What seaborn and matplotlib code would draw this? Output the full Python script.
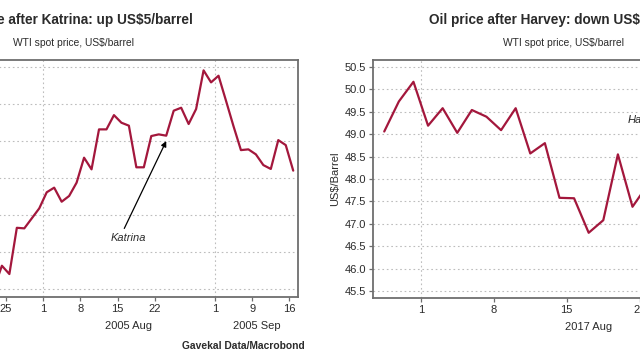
import numpy as np
import pandas as pd
import matplotlib
matplotlib.use("Agg")
import matplotlib.pyplot as plt
import matplotlib.transforms as mtransforms
import seaborn as sns

LINE_COLOR = "#a3173c"
SPINE_COLOR = "#6e6e6e"
GRID_COLOR = "#bdbdbd"
TEXT_COLOR = "#2b2b2b"

# ── Katrina panel (2005, trading days) ──
kat_start, kat_end = "2005-07-21", "2005-09-16"
kat_holidays = ["2005-09-05"]
kat_values = [58.10, 59.26, 58.81, 61.31, 61.28, 61.82, 62.36,
              63.23, 63.48, 62.72, 63.03, 63.75,
              65.10, 64.47, 66.63, 66.63, 67.40,
              66.99, 66.83, 64.58, 64.58, 66.27,
              66.36, 66.29, 67.64, 67.80, 66.92,
              67.73, 69.82, 69.17, 69.53, 68.18,
              66.81, 65.51, 65.55, 65.28,
              64.70, 64.49, 66.05, 65.78, 64.40]
kat_tick_dates = ["2005-07-25", "2005-08-01", "2005-08-08", "2005-08-15",
                  "2005-08-22", "2005-09-01", "2005-09-09", "2005-09-16"]
kat_tick_labels = ["25", "1", "8", "15", "22", "1", "9", "16"]
kat_months = ["2005-07-01", "2005-08-01", "2005-09-01", "2005-10-01"]
kat_month_labels = ["2005 Jul", "2005 Aug", "2005 Sep"]
kat_yticks = [58, 60, 62, 64, 66, 68, 70]

# ── Harvey panel (2017, trading days) ──
har_start, har_end = "2017-07-27", "2017-08-22"
har_holidays = []
har_values = [49.06, 49.73, 50.17,
              49.19, 49.58, 49.03, 49.54,
              49.39, 49.09, 49.58, 48.57, 48.80,
              47.58, 47.57, 46.80, 47.08, 48.55,
              47.38, 47.85]
har_tick_dates = ["2017-08-01", "2017-08-08", "2017-08-15", "2017-08-22",
                  "2017-08-29"]
har_tick_labels = ["1", "8", "15", "22", "29"]
har_months = ["2017-07-01", "2017-08-01", "2017-09-01", "2017-10-01"]
har_month_labels = ["2017 Jul", "2017 Aug", "2017 Sep"]
har_yticks = [45.5, 46.0, 46.5, 47.0, 47.5, 48.0, 48.5, 49.0, 49.5, 50.0, 50.5]

sns.set_theme(style="white")
plt.rcParams["font.family"] = ["Liberation Sans", "DejaVu Sans"]
plt.rcParams["text.color"] = TEXT_COLOR


def bpos(start, dates, holidays):
    d = np.array(pd.to_datetime(dates).strftime("%Y-%m-%d"), dtype="datetime64[D]")
    return np.busday_count(np.datetime64(start), d, holidays=holidays)


def draw_panel(ax, start, end, holidays, values, tick_dates, tick_labels,
               months, month_labels, yticks, xlim, ylim, yfmt):
    dates = pd.bdate_range(start, end)
    dates = dates[~dates.isin(pd.to_datetime(holidays))] if holidays else dates
    x = bpos(start, dates, holidays)
    sns.lineplot(x=x, y=values, ax=ax, color=LINE_COLOR, linewidth=1.6)

    ax.set_xlim(*xlim)
    ax.set_ylim(*ylim)
    ax.set_yticks(yticks)
    ax.set_yticklabels([yfmt.format(v) for v in yticks])
    ax.yaxis.grid(True, linestyle=(0, (1.5, 2.5)), color=GRID_COLOR, linewidth=0.8)
    ax.xaxis.grid(False)

    ticks = bpos(start, tick_dates, holidays) - 0.5
    ax.set_xticks(ticks)
    ax.set_xticklabels(tick_labels)

    # month boundaries: dotted vertical lines + centred month labels
    mpos = bpos(start, months, holidays) - 0.5
    for m in mpos:
        if xlim[0] < m < xlim[1]:
            ax.axvline(m, linestyle=(0, (1.5, 2.5)), color=GRID_COLOR, linewidth=0.8, zorder=0)
    trans = mtransforms.blended_transform_factory(ax.transData, ax.transAxes)
    for a, b, lab in zip(mpos[:-1], mpos[1:], month_labels):
        a, b = max(a, xlim[0]), min(b, xlim[1])
        if b - a > 5:
            ax.text((a + b) / 2, -0.122, lab, transform=trans, ha="center",
                    va="center", fontsize=8, color=TEXT_COLOR)

    for s in ax.spines.values():
        s.set_visible(True)
        s.set_color(SPINE_COLOR)
        s.set_linewidth(1.3)
    ax.tick_params(axis="both", direction="out", length=3, width=0.9,
                   color=SPINE_COLOR, labelsize=8, labelcolor=TEXT_COLOR, pad=2,
                   bottom=True, left=True)
    ax.set_xlabel("")
    ax.set_ylabel("US$/Barrel", fontsize=8, color=TEXT_COLOR)
    ax.yaxis.set_label_coords(-0.08, 0.5)


fig = plt.figure(figsize=(6.4, 3.6), dpi=100)
ax1 = fig.add_axes([-110 / 640, 63 / 360, 408 / 640, 237 / 360])
ax2 = fig.add_axes([373 / 640, 62 / 360, 408 / 640, 238 / 360])

draw_panel(ax1, kat_start, kat_end, kat_holidays, kat_values, kat_tick_dates,
           kat_tick_labels, kat_months, kat_month_labels, kat_yticks,
           (-13.98, 40.64), (57.57, 70.38), "{:.0f}")
draw_panel(ax2, har_start, har_end, har_holidays, har_values, har_tick_dates,
           har_tick_labels, har_months, har_month_labels, har_yticks,
           (-0.77, 27.17), (45.344, 50.656), "{:.1f}")

ax1.annotate("Katrina", xy=(23, 66.0), xytext=(17.9, 60.76),
             fontsize=8, style="italic", ha="center", va="center",
             arrowprops=dict(arrowstyle="-|>", color="black", lw=0.9,
                             mutation_scale=8, relpos=(0.33, 1.0),
                             shrinkA=1, shrinkB=0))
ax2.text(16.7, 49.32, "Harvey", fontsize=8, style="italic", ha="left", va="center")

fig.text(193 / 640, 1 - 20 / 360, "Oil price after Katrina: up US$5/barrel",
         ha="right", va="center", fontsize=9.8, fontweight="bold")
fig.text(429 / 640, 1 - 20 / 360, "Oil price after Harvey: down US$1/barrel",
         ha="left", va="center", fontsize=9.8, fontweight="bold")
fig.text(13 / 640, 1 - 43 / 360, "WTI spot price, US$/barrel",
         ha="left", va="center", fontsize=7.4)
fig.text(503 / 640, 1 - 43 / 360, "WTI spot price, US$/barrel",
         ha="left", va="center", fontsize=7.4)
fig.text(305 / 640, 1 - 346 / 360, "Gavekal Data/Macrobond",
         ha="right", va="center", fontsize=7.4, fontweight="bold")

fig.savefig("out.png", dpi=100)
